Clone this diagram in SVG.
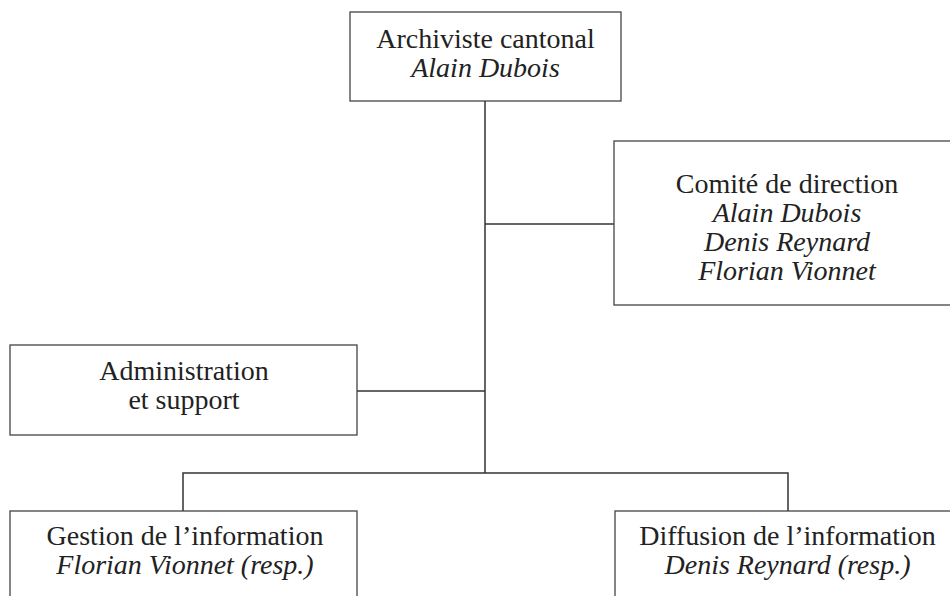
<svg xmlns="http://www.w3.org/2000/svg" width="950" height="596" viewBox="0 0 950 596">
<style>
.box{fill:#fff;stroke:#444;stroke-width:1.3}
.conn{fill:none;stroke:#333;stroke-width:1.5}
text{font-family:"Liberation Serif","Times New Roman",serif;font-size:28px;fill:#222;text-anchor:middle}
.it{font-style:italic}
</style>
<rect width="950" height="596" fill="#fff"/>
<g id="connectors">
<path class="conn" d="M485 101V473"/>
<path class="conn" d="M485 224H614"/>
<path class="conn" d="M357 391H485"/>
<path class="conn" d="M183 511V473H788V511"/>
</g>
<g id="archiviste">
<rect class="box" x="350" y="12" width="271" height="89"/>
<text x="485.5" y="48">Archiviste cantonal</text>
<text class="it" x="485.5" y="76.5">Alain Dubois</text>
</g>
<g id="comite">
<rect class="box" x="614" y="141" width="350" height="164"/>
<text x="787" y="193">Comité de direction</text>
<text class="it" x="787" y="222">Alain Dubois</text>
<text class="it" x="787" y="251">Denis Reynard</text>
<text class="it" x="787" y="280">Florian Vionnet</text>
</g>
<g id="administration">
<rect class="box" x="10" y="345" width="347" height="90"/>
<text x="184" y="380">Administration</text>
<text x="184" y="409">et support</text>
</g>
<g id="gestion">
<rect class="box" x="10" y="511" width="347" height="100"/>
<text x="185" y="545">Gestion de l’information</text>
<text class="it" x="185" y="573.5">Florian Vionnet (resp.)</text>
</g>
<g id="diffusion">
<rect class="box" x="615" y="511" width="350" height="100"/>
<text x="787.5" y="545">Diffusion de l’information</text>
<text class="it" x="787.5" y="573.5">Denis Reynard (resp.)</text>
</g>
</svg>
